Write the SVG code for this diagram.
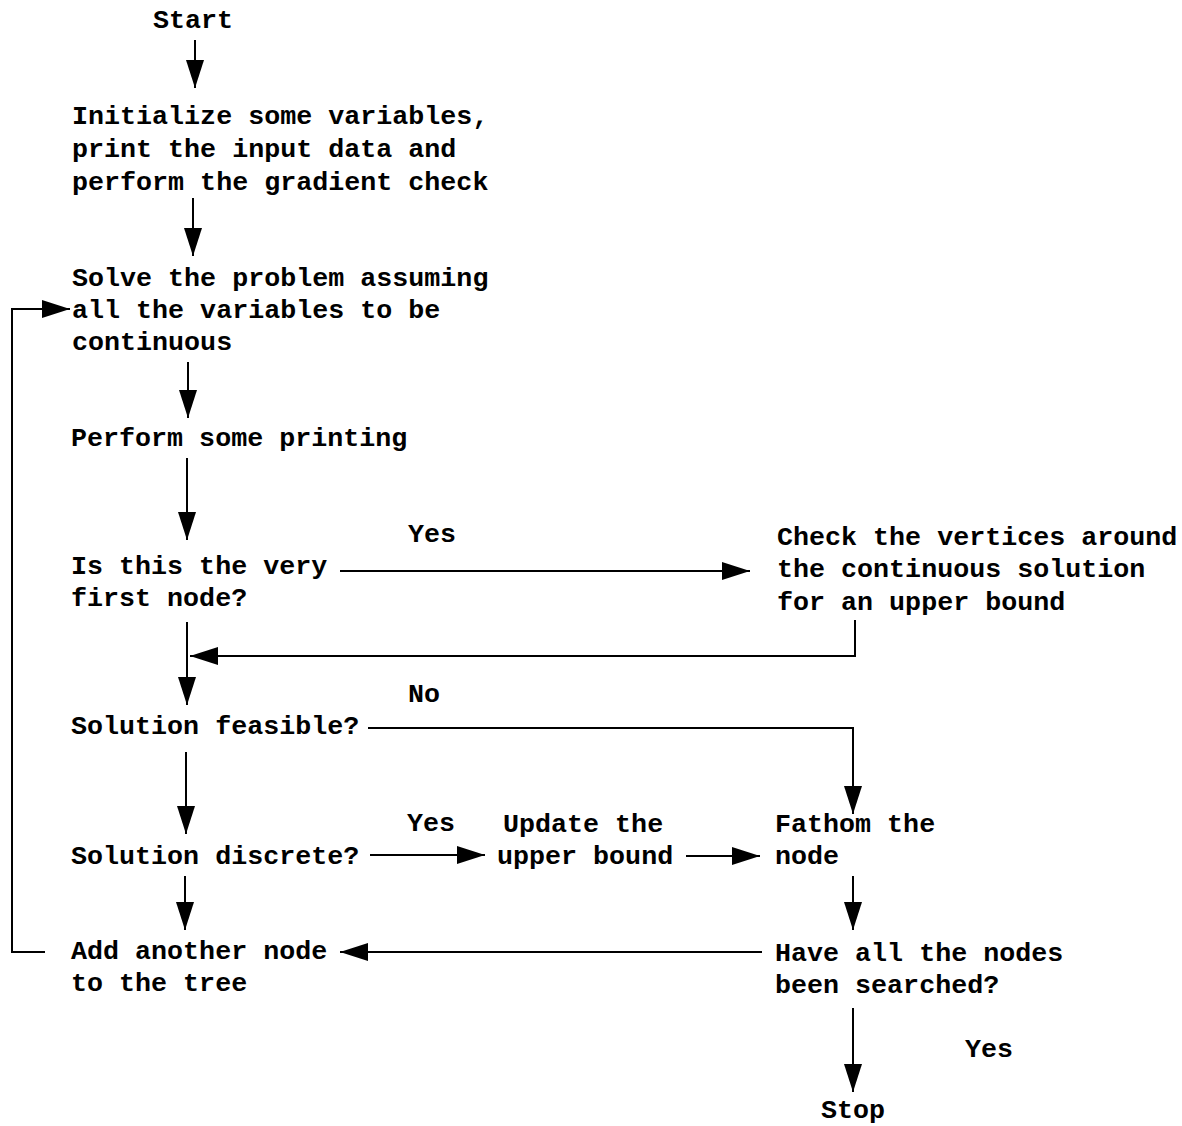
<svg xmlns="http://www.w3.org/2000/svg" width="1182" height="1126" viewBox="0 0 1182 1126">
<style>
text{font-family:"Liberation Mono","Courier New",monospace;font-size:26.7px;fill:#000;font-weight:bold}
.c{fill:none;stroke:#000;stroke-width:2}
</style>
<defs>
<marker id="ah" viewBox="0 0 28 18" refX="28" refY="9" markerWidth="28" markerHeight="18" markerUnits="userSpaceOnUse" orient="auto">
<path d="M0,0 L28,9 L0,18 z" fill="#000"/>
</marker>
</defs>
<rect width="1182" height="1126" fill="#fff"/>
<g id="n-start"><text x="153" y="28">Start</text></g>
<g id="n-init"><text x="72" y="124">Initialize some variables,</text><text x="72" y="157">print the input data and</text><text x="72" y="190">perform the gradient check</text></g>
<g id="n-solve"><text x="72" y="286">Solve the problem assuming</text><text x="72" y="318">all the variables to be</text><text x="72" y="350">continuous</text></g>
<g id="n-print"><text x="71" y="446">Perform some printing</text></g>
<g id="n-first"><text x="71" y="574">Is this the very</text><text x="71" y="606">first node?</text></g>
<g id="n-check"><text x="777" y="545">Check the vertices around</text><text x="777" y="577">the continuous solution</text><text x="777" y="610">for an upper bound</text></g>
<g id="n-feasible"><text x="71" y="734">Solution feasible?</text></g>
<g id="n-discrete"><text x="71" y="864">Solution discrete?</text></g>
<g id="n-update"><text x="503" y="832">Update the</text><text x="497" y="864">upper bound</text></g>
<g id="n-fathom"><text x="775" y="832">Fathom the</text><text x="775" y="864">node</text></g>
<g id="n-add"><text x="71" y="959">Add another node</text><text x="71" y="991">to the tree</text></g>
<g id="n-all"><text x="775" y="961">Have all the nodes</text><text x="775" y="993">been searched?</text></g>
<g id="n-stop"><text x="821" y="1118">Stop</text></g>
<g id="labels">
<text x="408" y="542">Yes</text>
<text x="408" y="702">No</text>
<text x="407" y="831">Yes</text>
<text x="965" y="1057">Yes</text>
</g>
<g id="connectors">
<path class="c" marker-end="url(#ah)" d="M195,40 V88"/>
<path class="c" marker-end="url(#ah)" d="M193,198 V256"/>
<path class="c" marker-end="url(#ah)" d="M188,362 V418"/>
<path class="c" marker-end="url(#ah)" d="M187,458 V540"/>
<path class="c" marker-end="url(#ah)" d="M340,571 H750"/>
<path class="c" marker-end="url(#ah)" d="M855,620 V656 H190"/>
<path class="c" marker-end="url(#ah)" d="M187,622 V705"/>
<path class="c" marker-end="url(#ah)" d="M368,728 H853 V814"/>
<path class="c" marker-end="url(#ah)" d="M186,752 V834"/>
<path class="c" marker-end="url(#ah)" d="M370,855 H485"/>
<path class="c" marker-end="url(#ah)" d="M686,856 H760"/>
<path class="c" marker-end="url(#ah)" d="M853,876 V930"/>
<path class="c" marker-end="url(#ah)" d="M185,876 V930"/>
<path class="c" marker-end="url(#ah)" d="M762,952 H340"/>
<path class="c" marker-end="url(#ah)" d="M45,952 H12 V309 H70"/>
<path class="c" marker-end="url(#ah)" d="M853,1008 V1092"/>
</g>
</svg>
